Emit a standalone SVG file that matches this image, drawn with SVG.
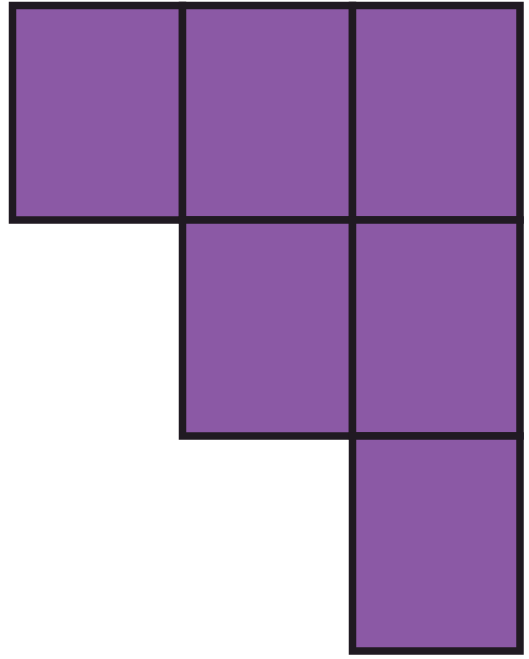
<svg xmlns="http://www.w3.org/2000/svg" width="529" height="659" viewBox="0 0 529 659">
<style>
.c{fill:#8b59a5;stroke:#201a22;stroke-width:7.5;stroke-linejoin:miter}
</style>
<rect width="529" height="659" fill="#ffffff"/>
<g id="cell-r1c1"><rect class="c" x="12.5" y="5.5" width="170" height="214.5"/></g>
<g id="cell-r1c2"><rect class="c" x="182.5" y="5.5" width="170" height="214.5"/></g>
<g id="cell-r1c3"><rect class="c" x="352.5" y="5.5" width="167.5" height="214.5"/></g>
<g id="cell-r2c2"><rect class="c" x="182.5" y="220" width="170" height="216"/></g>
<g id="cell-r2c3"><rect class="c" x="352.5" y="220" width="167.5" height="216"/></g>
<g id="cell-r3c3"><rect class="c" x="352.5" y="436" width="167.5" height="215"/></g>
<g id="connectors"></g>
</svg>
